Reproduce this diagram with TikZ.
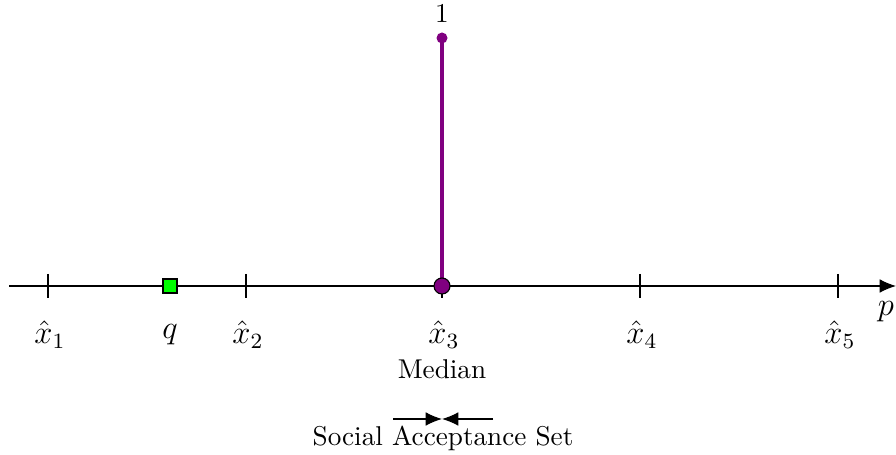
\documentclass[tikz,border=0pt]{standalone}
\usetikzlibrary{arrows.meta}
\definecolor{spike}{RGB}{128,0,128}
\definecolor{qgreen}{RGB}{0,255,0}
\begin{document}
\begin{tikzpicture}[x=0.3676pt,y=-0.3676pt,
  lbl/.style={inner sep=0pt,font=\large},
  tickmark/.style={line width=0.4pt},
  axisline/.style={line width=0.4pt,-{Latex[length=6pt,width=5pt]}},
  sasarrow/.style={line width=0.4pt,-{Latex[length=6pt,width=5pt]}}]
\useasboundingbox (0,0) rectangle (896,455);
% axis
\coordinate (a0) at (9,286);
\coordinate (a1) at (896,286);
\draw[axisline] (a0) -- (a1);
% ticks
\foreach \i/\xx in {1/48,2/246,3/442,4/640,5/838}{
  \coordinate (t\i) at (\xx,286);
  \draw[tickmark] (\xx,274) -- (\xx,298);
  \node[lbl] (l\i) at (\xx+2,335) {$\hat{x}_{\i}$};
}
\node[lbl] (p) at (886,312) {$p$};
% q
\node[draw=black,fill=qgreen,minimum size=14*0.3676pt,inner sep=0pt,line width=0.4pt] (qs) at (170,286) {};
\node[lbl] (q) at (170,335) {$q$};
% purple spike
\coordinate (top) at (442,38);
\draw[spike,line width=1.2pt] (t3) -- (top);
\fill[spike] (top) circle (5.5*0.3676pt);
\filldraw[fill=spike,draw=black,line width=0.4pt] (t3) circle (8*0.3676pt);
\node[inner sep=0pt] (one) at (442,14) {$1$};
\node[inner sep=0pt] (med) at (442,369) {Median};
% social acceptance set
\coordinate (sl) at (393,419);
\coordinate (sr) at (493,419);
\coordinate (sm) at (442,419);
\draw[sasarrow] (sl) -- (sm);
\draw[sasarrow] (sr) -- (sm);
\node[inner sep=0pt] (sas) at (443,438) {Social Acceptance Set};
\end{tikzpicture}
\end{document}
